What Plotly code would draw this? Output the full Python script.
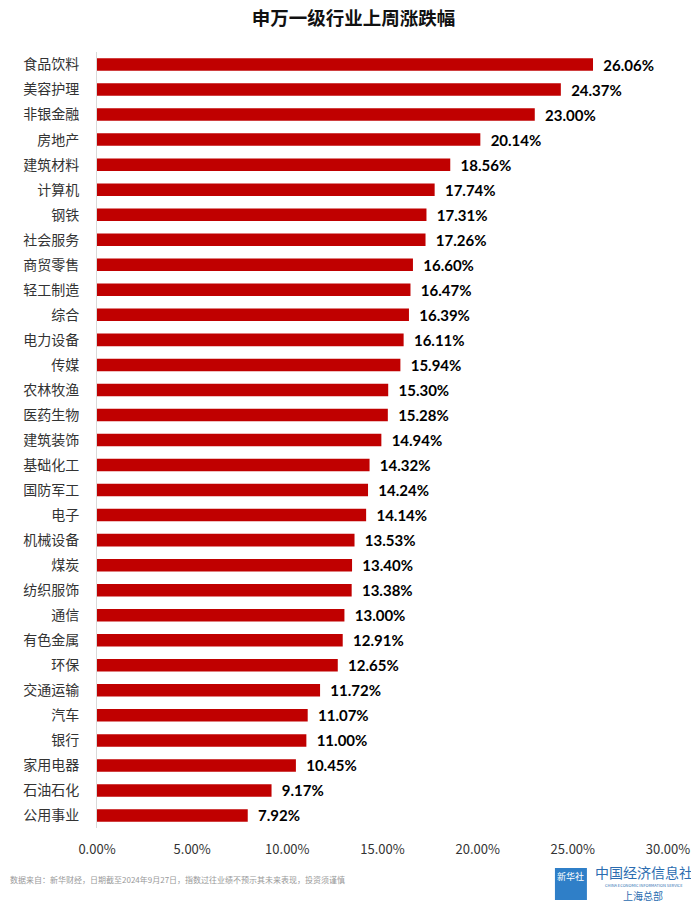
import plotly.graph_objects as go

industries = ["食品饮料", "美容护理", "非银金融", "房地产", "建筑材料", "计算机", "钢铁", "社会服务",
              "商贸零售", "轻工制造", "综合", "电力设备", "传媒", "农林牧渔", "医药生物", "建筑装饰",
              "基础化工", "国防军工", "电子", "机械设备", "煤炭", "纺织服饰", "通信", "有色金属",
              "环保", "交通运输", "汽车", "银行", "家用电器", "石油石化", "公用事业"]
changes = [26.06, 24.37, 23.00, 20.14, 18.56, 17.74, 17.31, 17.26,
           16.60, 16.47, 16.39, 16.11, 15.94, 15.30, 15.28, 14.94,
           14.32, 14.24, 14.14, 13.53, 13.40, 13.38, 13.00, 12.91,
           12.65, 11.72, 11.07, 11.00, 10.45, 9.17, 7.92]
tick_vals = [0, 5, 10, 15, 20, 25, 30]
tick_text = ["0.00%", "5.00%", "10.00%", "15.00%", "20.00%", "25.00%", "30.00%"]

FONT = "Noto Sans CJK SC, Microsoft YaHei, sans-serif"

fig = go.Figure()
fig.add_trace(go.Bar(
    x=changes, y=industries, orientation="h",
    marker=dict(color="#C00000", line=dict(width=0)),
    width=0.5,
    text=[f"  {v:.2f}%" for v in changes],
    textposition="outside",
    constraintext="none",
    textfont=dict(size=15, color="#000000", family="Lato, " + FONT, weight="bold"),
    cliponaxis=False,
))

# page has an 8px body margin, so the figure is drawn slightly smaller
fig.update_layout(
    width=691, height=895,
    margin=dict(l=89, r=31, t=44, b=75, autoexpand=False),
    paper_bgcolor="white", plot_bgcolor="white",
    showlegend=False,
    title=dict(text="<b>申万一级行业上周涨跌幅</b>", x=0.5, xanchor="center", y=0.9885, yanchor="middle",
               font=dict(size=18.5, color="#111111", family=FONT)),
    font=dict(family=FONT, color="#333333"),
)
fig.update_xaxes(range=[0, 30], tickvals=tick_vals, ticktext=tick_text, showgrid=False,
                 zeroline=False, showline=False, ticks="", ticklabelstandoff=12, automargin=False,
                 tickfont=dict(size=13, color="#333333", family=FONT))
fig.update_yaxes(autorange="reversed", showgrid=False, zeroline=False, automargin=False,
                 showline=True, linecolor="#D9D9D9", linewidth=1, ticks="",
                 ticklabelstandoff=14, tickfont=dict(size=14, color="#333333", family=FONT))

fig.add_annotation(text="数据来自：新华财经，日期截至2024年9月27日，指数过往业绩不预示其未来表现，投资须谨慎",
                   xref="paper", yref="paper", x=-0.156, y=-0.067, xanchor="left", yanchor="middle",
                   showarrow=False, font=dict(size=8, color="#999999", family=FONT))

# logo block
fig.add_shape(type="rect", xref="paper", yref="paper", x0=0.802, x1=0.858, y0=-0.0928, y1=-0.0515,
              fillcolor="#2F7FC8", line=dict(width=0), layer="below")
fig.add_annotation(text="新华社", xref="paper", yref="paper", x=0.830, y=-0.0625, yanchor="middle",
                   xanchor="center", showarrow=False, font=dict(size=9, color="white", family=FONT))
fig.add_annotation(text="中国经济信息社", xref="paper", yref="paper", x=0.958, y=-0.0565, yanchor="middle",
                   xanchor="center", showarrow=False, font=dict(size=14, color="#2B6CB0", family=FONT))
fig.add_annotation(text="CHINA ECONOMIC INFORMATION SERVICE", xref="paper", yref="paper", x=0.958, y=-0.0738,
                   yanchor="middle", xanchor="center", showarrow=False,
                   font=dict(size=4, color="#2B6CB0", family=FONT))
fig.add_annotation(text="上海总部", xref="paper", yref="paper", x=0.956, y=-0.0875, yanchor="middle",
                   xanchor="center", showarrow=False, font=dict(size=10, color="#2B6CB0", family=FONT))

fig.write_html("out.html")
